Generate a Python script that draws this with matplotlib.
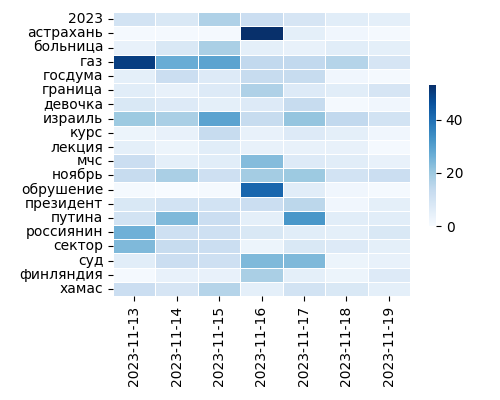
import numpy as np
import pandas as pd
import seaborn as sns
import matplotlib
matplotlib.use('Agg')
from matplotlib import pyplot as plt

words = ['2023', 'астрахань', 'больница', 'газ', 'госдума', 'граница', 'девочка',
         'израиль', 'курс', 'лекция', 'мчс', 'ноябрь', 'обрушение', 'президент',
         'путина', 'россиянин', 'сектор', 'суд', 'финляндия', 'хамас']
dates = ['2023-11-13', '2023-11-14', '2023-11-15', '2023-11-16',
         '2023-11-17', '2023-11-18', '2023-11-19']

counts = [
    [10, 8, 17, 12, 9, 6, 5],
    [1, 1, 1, 53, 5, 2, 1],
    [4, 8, 18, 5, 4, 6, 5],
    [50, 27, 29, 14, 14, 16, 9],
    [5, 12, 7, 13, 13, 2, 1],
    [6, 4, 7, 17, 7, 6, 9],
    [8, 7, 5, 7, 13, 1, 2],
    [20, 18, 29, 13, 21, 14, 10],
    [3, 4, 13, 4, 7, 5, 2],
    [5, 3, 6, 4, 4, 4, 1],
    [12, 5, 6, 23, 7, 6, 4],
    [13, 18, 11, 19, 20, 10, 12],
    [1, 0, 1, 42, 6, 2, 1],
    [8, 10, 10, 12, 15, 2, 5],
    [10, 24, 12, 5, 32, 6, 6],
    [26, 11, 11, 8, 6, 5, 8],
    [24, 13, 12, 3, 8, 7, 5],
    [6, 12, 11, 24, 24, 3, 4],
    [1, 4, 4, 18, 5, 3, 7],
    [12, 9, 16, 5, 10, 8, 5],
]

df = pd.DataFrame(counts, index=words, columns=dates)

fig = plt.figure(figsize=(5, 4), dpi=100)
ax = fig.add_axes([0.226, 0.26, 0.594, 0.71])
cax = fig.add_axes([0.858, 0.435, 0.014, 0.3525])

sns.heatmap(df, cmap='Blues', linewidths=0.7, linecolor='white', ax=ax, cbar_ax=cax,
            xticklabels=True, yticklabels=True)
ax.tick_params(axis='x', labelrotation=90)
ax.tick_params(axis='y', labelrotation=0)
cax.set_yticks([0, 20, 40])

fig.savefig('out.png', dpi=100)
